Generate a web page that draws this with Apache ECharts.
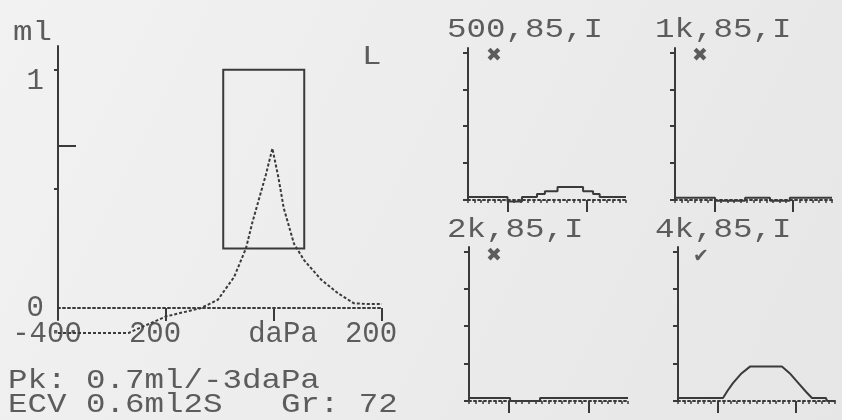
<!DOCTYPE html>
<html>
<head>
<meta charset="utf-8">
<script src="https://cdn.jsdelivr.net/npm/echarts@6/dist/echarts.min.js"></script>
<style>
html, body { margin: 0; padding: 0; background: #ececec; }
#tymp { width: 842px; height: 420px; }
</style>
</head>
<body>
<div id="tymp"></div>
<script>
// main tympanogram (226 Hz probe), left ear
var pressure = [-400, -270, -235, -200, -167, -135, -104, -74, -52, -40, -30, -15, -3, 8, 18, 37, 56, 87, 118, 148, 174, 200];
var compliance = [-0.105, -0.105, -0.07, -0.035, -0.017, 0, 0.035, 0.13, 0.25, 0.36, 0.44, 0.56, 0.67, 0.55, 0.42, 0.27, 0.2, 0.12, 0.063, 0.02, 0.017, 0.017];

// normal region box (daPa / ml)
var boxPressure = [-94, 56];
var boxCompliance = [0.25, 1.0];
var pkLevel = 0.68;

var xTickValues = [-400, -200, 0, 200];
var xTickLabels = ['-400', '200', 'daPa', '200'];
var yTickValues = [0, 1];
var yTickLabels = ['0', '1'];

// multi frequency screens
var panelTitles = ['500,85,I', '1k,85,I', '2k,85,I', '4k,85,I'];
var panelMarks = ['\u2716', '\u2716', '\u2716', '\u2714'];
var p500 = [[-300, 0.02], [-150, -0.01], [-95, 0.02], [-38, 0.04], [-8, 0.06], [40, 0.088], [137, 0.06], [175, 0.04], [200, 0.02], [300, 0.02]];
var p1k = [[-300, 0.015], [-147, -0.005], [-32, 0.015], [63, -0.005], [139, 0.015], [300, 0.015]];
var p2k = [[-300, 0.02], [-145, 0.0], [-32, 0.02], [300, 0.02]];
var p4k = [[-300, 0.02], [-128, 0.02], [-110, 0.07], [-90, 0.12], [-60, 0.18], [-25, 0.23], [97, 0.23], [130, 0.18], [160, 0.12], [190, 0.06], [212, 0.02], [265, 0.02], [270, 0], [300, 0]];
var panelData = [p500, p1k, p2k, p4k];
var panelStep = ['end', 'end', 'end', false];

var ink = '#3a3a3a';
var textInk = '#5c5c5c';
var mono = 'Liberation Mono';

var chartDom = document.getElementById('tymp');
var myChart = echarts.init(chartDom);

var panelGrids = [
  { left: 468, top: 48, width: 158, height: 152 },
  { left: 675, top: 48, width: 157, height: 152 },
  { left: 469, top: 247, width: 159, height: 154 },
  { left: 678, top: 247, width: 157, height: 154 }
];
var titlePos = [[447, 30], [655, 30], [447, 230], [655, 230]];
var markPos = [[486, 56], [692, 56], [486, 256], [693, 257]];

function lcdText(x, y, str, size, sx) {
  return {
    type: 'text', x: x, y: y, scaleX: sx || 1.16, silent: true,
    style: { text: str, fontFamily: mono, fontSize: size || 28, fill: textInk, verticalAlign: 'middle', align: 'left' }
  };
}

var grids = [{ left: 58, top: 46, width: 324, height: 274 }];
var xAxes = [{
  gridIndex: 0, type: 'value', min: -400, max: 200,
  axisLine: { show: true, onZero: true, lineStyle: { color: ink, width: 2, type: [2, 3] } },
  axisTick: { show: true, customValues: [-200, 0, 200], length: 13, lineStyle: { color: ink, width: 2 } },
  axisLabel: {
    show: true, customValues: xTickValues, margin: 0,
    fontFamily: mono, fontSize: 29, color: textInk,
    formatter: function (v) {
      var i = xTickValues.indexOf(v);
      var s = xTickLabels[i];
      if (s === 'daPa') return '{r|' + s + '}';
      return '{l|' + s + '}';
    },
    rich: {
      l: { fontFamily: mono, fontSize: 29, color: textInk, padding: [0, 22, 0, 0] },
      r: { fontFamily: mono, fontSize: 29, color: textInk, padding: [0, 0, 0, 18] }
    }
  },
  splitLine: { show: false }
}];
var yAxes = [{
  gridIndex: 0, type: 'value', min: -0.05, max: 1.1, position: 'left',
  axisLine: { show: true, onZero: false, lineStyle: { color: ink, width: 2 } },
  axisTick: { show: true, customValues: [0.5, 1], length: 4, lineStyle: { color: ink, width: 2 } },
  axisLabel: {
    show: true, customValues: yTickValues, margin: 14,
    formatter: function (v) {
      var s = yTickLabels[yTickValues.indexOf(v)];
      return v === 1 ? '{d|' + s + '}' : '{n|' + s + '}';
    },
    rich: {
      n: { fontFamily: mono, fontSize: 29, color: textInk },
      d: { fontFamily: mono, fontSize: 29, color: textInk, padding: [24, 0, 0, 0] }
    }
  },
  splitLine: { show: false }
}, {
  gridIndex: 0, type: 'value', min: -0.05, max: 1.1, position: 'left',
  axisLine: { show: false, onZero: false },
  axisTick: { show: true, inside: true, customValues: [pkLevel], length: 18, lineStyle: { color: ink, width: 2 } },
  axisLabel: { show: false },
  splitLine: { show: false }
}];

var series = [{
  type: 'line', xAxisIndex: 0, yAxisIndex: 0,
  data: pressure.map(function (p, i) { return [p, compliance[i]]; }),
  showSymbol: false, symbol: 'none', clip: false, silent: true,
  lineStyle: { color: ink, width: 2, type: [3, 2] },
  markArea: {
    silent: true,
    itemStyle: { color: 'rgba(0,0,0,0)', borderColor: ink, borderWidth: 2 },
    data: [[{ xAxis: boxPressure[0], yAxis: boxCompliance[1] }, { xAxis: boxPressure[1], yAxis: boxCompliance[0] }]]
  }
}];

var graphics = [
  lcdText(13, 33, 'ml'),
  lcdText(362, 57, 'L'),
  lcdText(8, 381, 'Pk: 0.7ml/-3daPa'),
  lcdText(8, 405, 'ECV 0.6ml2S   Gr: 72')
];

for (var i = 0; i < 4; i++) {
  grids.push(panelGrids[i]);
  var g = i + 1;
  xAxes.push({
    gridIndex: g, type: 'value', min: -300, max: 300, position: 'bottom',
    axisLine: { show: true, onZero: false, lineStyle: { color: ink, width: 2, type: [2, 3] } },
    axisTick: { show: true, customValues: [-150, 150], length: 12, lineStyle: { color: ink, width: 2 } },
    axisLabel: { show: false },
    splitLine: { show: false }
  });
  yAxes.push({
    gridIndex: g, type: 'value', min: 0, max: 1.03, position: 'left',
    axisLine: { show: true, onZero: false, lineStyle: { color: ink, width: 2 } },
    axisTick: { show: true, customValues: [0, 0.25, 0.5, 0.75, 1], length: 5, lineStyle: { color: ink, width: 2 } },
    axisLabel: { show: false },
    splitLine: { show: false }
  });
  series.push({
    type: 'line', xAxisIndex: 5 + i, yAxisIndex: 2 + i,
    data: panelData[i], step: panelStep[i],
    showSymbol: false, symbol: 'none', clip: false, silent: true,
    lineStyle: { color: ink, width: 2 }
  });
  graphics.push(lcdText(titlePos[i][0], titlePos[i][1], panelTitles[i]));
  graphics.push({
    type: 'text', x: markPos[i][0], y: markPos[i][1], silent: true,
    style: { text: panelMarks[i], fontFamily: 'DejaVu Sans', fontSize: 19, fill: textInk, verticalAlign: 'middle', align: 'left' }
  });
}
// minor tick axes for the small panels
for (var j = 0; j < 4; j++) {
  xAxes.push({
    gridIndex: j + 1, type: 'value', min: -300, max: 300, interval: 25, position: 'bottom',
    axisLine: { show: false, onZero: false },
    axisTick: { show: true, length: 3, lineStyle: { color: ink, width: 1.5 } },
    axisLabel: { show: false },
    splitLine: { show: false }
  });
}

var option = {
  backgroundColor: {
    type: 'linear', x: 0, y: 0, x2: 1, y2: 1,
    colorStops: [{ offset: 0, color: '#f2f2f2' }, { offset: 1, color: '#e6e6e6' }]
  },
  animation: false,
  grid: grids,
  xAxis: xAxes,
  yAxis: yAxes,
  series: series,
  graphic: graphics
};

option && myChart.setOption(option);
</script>
</body>
</html>
